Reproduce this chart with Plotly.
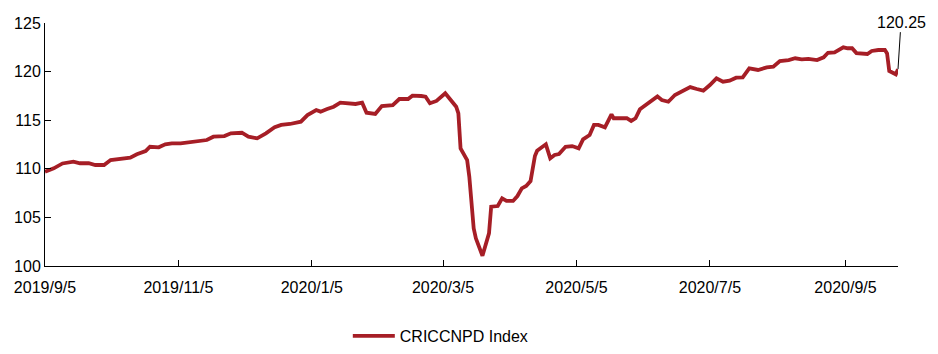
import plotly.graph_objects as go

dates = [
    "2019-09-05", "2019-09-09", "2019-09-13", "2019-09-18", "2019-09-21", "2019-09-25",
    "2019-09-28", "2019-10-02", "2019-10-05", "2019-10-09", "2019-10-12", "2019-10-14",
    "2019-10-17", "2019-10-21", "2019-10-23", "2019-10-27", "2019-10-30", "2019-11-02",
    "2019-11-06", "2019-11-09", "2019-11-13", "2019-11-16", "2019-11-18", "2019-11-21",
    "2019-11-26", "2019-11-29", "2019-12-04", "2019-12-07", "2019-12-11", "2019-12-15",
    "2019-12-19", "2019-12-22", "2019-12-26", "2019-12-31", "2020-01-03", "2020-01-07",
    "2020-01-09", "2020-01-12", "2020-01-15", "2020-01-18", "2020-01-21", "2020-01-25",
    "2020-01-28", "2020-01-30", "2020-02-03", "2020-02-06", "2020-02-11", "2020-02-14",
    "2020-02-18", "2020-02-20", "2020-02-24", "2020-02-26", "2020-02-28", "2020-03-02",
    "2020-03-06", "2020-03-08", "2020-03-11", "2020-03-12", "2020-03-13", "2020-03-16",
    "2020-03-17", "2020-03-19", "2020-03-20", "2020-03-23", "2020-03-26", "2020-03-27",
    "2020-03-30", "2020-04-01", "2020-04-03", "2020-04-06", "2020-04-08", "2020-04-10",
    "2020-04-12", "2020-04-14", "2020-04-16", "2020-04-17", "2020-04-21", "2020-04-23",
    "2020-04-25", "2020-04-27", "2020-04-30", "2020-05-03", "2020-05-06", "2020-05-08",
    "2020-05-11", "2020-05-13", "2020-05-15", "2020-05-18", "2020-05-21", "2020-05-22",
    "2020-05-25", "2020-05-28", "2020-05-30", "2020-06-01", "2020-06-03", "2020-06-05",
    "2020-06-08", "2020-06-11", "2020-06-13", "2020-06-16", "2020-06-19", "2020-06-22",
    "2020-06-26", "2020-06-29", "2020-07-02", "2020-07-05", "2020-07-08", "2020-07-11",
    "2020-07-14", "2020-07-17", "2020-07-20", "2020-07-23", "2020-07-27", "2020-07-31",
    "2020-08-03", "2020-08-06", "2020-08-10", "2020-08-13", "2020-08-16", "2020-08-19",
    "2020-08-23", "2020-08-26", "2020-08-28", "2020-08-31", "2020-09-04", "2020-09-06",
    "2020-09-08", "2020-09-10", "2020-09-13", "2020-09-15", "2020-09-17", "2020-09-20",
    "2020-09-23", "2020-09-24", "2020-09-25", "2020-09-27", "2020-09-28", "2020-09-29",
]

values = [
    109.70, 110.05, 110.55, 110.73, 110.57, 110.57,
    110.39, 110.39, 110.90, 111.00, 111.08, 111.14,
    111.49, 111.83, 112.27, 112.21, 112.52, 112.62,
    112.62, 112.72, 112.79, 112.89, 112.96, 113.30,
    113.37, 113.65, 113.71, 113.30, 113.14, 113.65,
    114.27, 114.51, 114.61, 114.85, 115.53, 116.05,
    115.88, 116.15, 116.39, 116.80, 116.74, 116.67,
    116.80, 115.77, 115.64, 116.46, 116.56, 117.18,
    117.18, 117.52, 117.49, 117.42, 116.74, 116.98,
    117.77, 117.25, 116.39, 115.71, 112.10, 110.90,
    109.19, 103.88, 102.85, 101.05, 103.36, 106.10,
    106.17, 106.96, 106.69, 106.69, 107.20, 107.99,
    108.23, 108.74, 111.32, 111.86, 112.52, 111.08,
    111.42, 111.52, 112.27, 112.34, 112.10, 113.03,
    113.48, 114.51, 114.51, 114.27, 115.60, 115.20,
    115.20, 115.20, 114.92, 115.20, 116.12, 116.46,
    117.00, 117.45, 117.08, 116.90, 117.59, 117.93,
    118.40, 118.21, 118.04, 118.62, 119.31, 118.96,
    119.06, 119.37, 119.41, 120.34, 120.17, 120.44,
    120.50, 121.09, 121.19, 121.37, 121.26, 121.30,
    121.19, 121.47, 121.94, 121.98, 122.50, 122.40,
    122.40, 121.90, 121.81, 121.81, 122.12, 122.22,
    122.22, 121.88, 120.06, 119.89, 119.72, 120.25,
]

series_name = "CRICCNPD Index"
x_tick_vals = ["2019-09-05", "2019-11-05", "2020-01-05", "2020-03-05",
               "2020-05-05", "2020-07-05", "2020-09-05"]
x_tick_text = ["2019/9/5", "2019/11/5", "2020/1/5", "2020/3/5",
               "2020/5/5", "2020/7/5", "2020/9/5"]
y_tick_vals = [100, 105, 110, 115, 120, 125]
last_label = "120.25"

FONT = "Arial, 'Liberation Sans', sans-serif"
LINE_COLOR = "#A61E26"

fig = go.Figure()
fig.add_trace(go.Scatter(
    x=dates, y=values, mode="lines", name=series_name,
    line=dict(color=LINE_COLOR, width=3.8),
    showlegend=True,
))

fig.add_annotation(
    x=dates[-1], y=values[-1], text=last_label,
    showarrow=True, arrowhead=0, arrowwidth=1, arrowcolor="black",
    ax=3, ay=-47, font=dict(family=FONT, size=16, color="black"),
)

fig.update_layout(
    width=938, height=354,
    margin=dict(l=45, r=40, t=23, b=88, autoexpand=False),
    paper_bgcolor="white", plot_bgcolor="white",
    font=dict(family=FONT, size=16, color="black"),
    showlegend=True,
    legend=dict(orientation="h", x=0.355, xanchor="left",
                yref="container", y=1 - 336 / 354, yanchor="middle",
                font=dict(family=FONT, size=16, color="black"), itemwidth=42),
    xaxis=dict(
        type="date", range=["2019-09-05", "2020-09-29"],
        tickvals=x_tick_vals, ticktext=x_tick_text,
        ticks="inside", ticklen=6, tickcolor="black", tickwidth=1,
        showline=True, linecolor="black", linewidth=1,
        showgrid=False, zeroline=False, automargin=False,
        ticklabelstandoff=7,
        tickfont=dict(family=FONT, size=16, color="black"),
    ),
    yaxis=dict(
        range=[100, 125], tickvals=y_tick_vals,
        ticks="inside", ticklen=6, tickcolor="black", tickwidth=1,
        showline=True, linecolor="black", linewidth=1,
        showgrid=False, zeroline=False, automargin=False,
        tickfont=dict(family=FONT, size=16, color="black"),
    ),
)

fig.write_html("out.html")
